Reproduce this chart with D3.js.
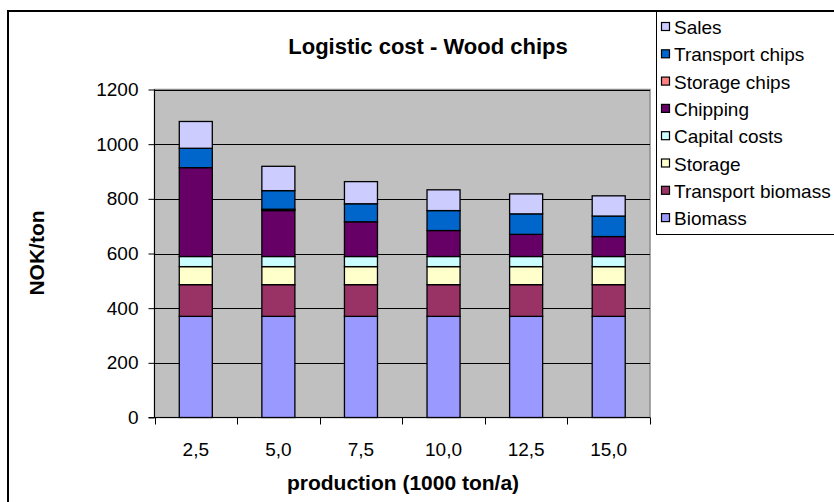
<!DOCTYPE html>
<html>
<head>
<meta charset="utf-8">
<script src="https://cdn.jsdelivr.net/npm/d3@7/dist/d3.min.js"></script>
<style>
  html, body { margin: 0; padding: 0; background: #fff; }
  svg { display: block; font-family: "Liberation Sans", Arial, sans-serif; }
</style>
</head>
<body>
<svg id="chart" width="834" height="502"></svg>
<script>
// Production levels (1000 ton/a)
const categories = ["2,5", "5,0", "7,5", "10,0", "12,5", "15,0"];

// Cost components, NOK/ton, stacked bottom to top
const biomass          = [370, 370, 370, 370, 370, 370];
const transportBiomass = [116, 116, 116, 116, 116, 116];
const storage          = [66, 66, 66, 66, 66, 66];
const capitalCosts     = [37, 37, 37, 37, 37, 37];
const chipping         = [325, 168, 127, 95, 81, 73];
const storageChips     = [0, 5, 0, 0, 0, 0];
const transportChips   = [71, 68, 66, 73, 75, 75];
const sales            = [98, 89, 81, 76, 73, 74];

const yTicks = [0, 200, 400, 600, 800, 1000, 1200];

const series = [
  { name: "Biomass",           values: biomass,          color: "#9999FF" },
  { name: "Transport biomass", values: transportBiomass, color: "#993366" },
  { name: "Storage",           values: storage,          color: "#FFFFCC" },
  { name: "Capital costs",     values: capitalCosts,     color: "#CCFFFF" },
  { name: "Chipping",          values: chipping,         color: "#660066" },
  { name: "Storage chips",     values: storageChips,     color: "#FF8080" },
  { name: "Transport chips",   values: transportChips,   color: "#0066CC" },
  { name: "Sales",             values: sales,            color: "#CCCCFF" }
];

const svg = d3.select("#chart");

// Chart frame
svg.append("rect")
  .attr("x", 8).attr("y", 11).attr("width", 900).attr("height", 600)
  .attr("fill", "#fff").attr("stroke", "#000").attr("stroke-width", 2);

const plot = { left: 154.5, right: 650, top: 89.5, bottom: 417.5 };

const band = d3.scaleBand().domain(categories).range([plot.left, plot.right]);
const y = d3.scaleLinear().domain([0, 1200]).range([plot.bottom, plot.top]);

// Plot background
svg.append("rect")
  .attr("x", plot.left).attr("y", plot.top)
  .attr("width", plot.right - plot.left).attr("height", plot.bottom - plot.top)
  .attr("fill", "#C0C0C0").attr("stroke", "#8c8c8c").attr("stroke-width", 1.5);

// Gridlines
svg.append("g").selectAll("line")
  .data(yTicks.filter(d => d > 0))
  .join("line")
  .attr("x1", plot.left).attr("x2", plot.right)
  .attr("y1", d => Math.round(y(d)) + 0.5).attr("y2", d => Math.round(y(d)) + 0.5)
  .attr("stroke", "#000").attr("stroke-width", 1);

// Stacked bars
const rows = categories.map((c, i) => {
  const r = { cat: c };
  series.forEach(s => { r[s.name] = s.values[i]; });
  return r;
});
const stacked = d3.stack().keys(series.map(s => s.name))(rows);

const barW = band.bandwidth() * 0.4;
svg.append("g").selectAll("g")
  .data(stacked)
  .join("g")
  .attr("fill", (d, i) => series[i].color)
  .selectAll("rect")
  .data(d => d.filter(p => p[1] - p[0] > 0))
  .join("rect")
  .attr("x", d => band(d.data.cat) + (band.bandwidth() - barW) / 2)
  .attr("width", barW)
  .attr("y", d => y(d[1]))
  .attr("height", d => y(d[0]) - y(d[1]))
  .attr("stroke", "#000").attr("stroke-width", 1.3);

// Y axis
const yAxis = d3.axisLeft(y).tickValues(yTicks).tickSize(6).tickPadding(10).tickFormat(d3.format("d"));
const gy = svg.append("g").attr("transform", `translate(${plot.left},0)`).call(yAxis);
gy.select(".domain").attr("stroke", "#000").attr("d", `M0,${plot.top}V${plot.bottom}`);
gy.selectAll("text").attr("font-size", 19).attr("fill", "#000")
  .attr("font-family", "Liberation Sans, Arial, sans-serif");

// X axis: ticks at category boundaries
svg.append("line")
  .attr("x1", plot.left - 6).attr("x2", plot.right)
  .attr("y1", plot.bottom).attr("y2", plot.bottom)
  .attr("stroke", "#000");
const bounds = categories.map(c => band(c)).concat([plot.right]);
svg.append("g").selectAll("line")
  .data(bounds)
  .join("line")
  .attr("x1", d => Math.round(d) + 0.5).attr("x2", d => Math.round(d) + 0.5)
  .attr("y1", plot.bottom).attr("y2", plot.bottom + 7)
  .attr("stroke", "#000");
svg.append("g").selectAll("text")
  .data(categories)
  .join("text")
  .attr("x", d => band(d) + band.bandwidth() / 2)
  .attr("y", 456)
  .attr("text-anchor", "middle")
  .attr("font-size", 19)
  .text(d => d);

// Titles
svg.append("text")
  .attr("x", 428).attr("y", 54)
  .attr("text-anchor", "middle")
  .attr("font-size", 22).attr("font-weight", "bold")
  .text("Logistic cost - Wood chips");

svg.append("text")
  .attr("x", 403).attr("y", 490)
  .attr("text-anchor", "middle")
  .attr("font-size", 21).attr("font-weight", "bold")
  .text("production (1000 ton/a)");

svg.append("text")
  .attr("transform", "translate(44,253) rotate(-90)")
  .attr("text-anchor", "middle")
  .attr("font-size", 21).attr("font-weight", "bold")
  .text("NOK/ton");

// Legend
const legend = svg.append("g");
legend.append("rect")
  .attr("x", 656.5).attr("y", 11.5).attr("width", 300).attr("height", 223)
  .attr("fill", "#fff").attr("stroke", "#000").attr("stroke-width", 1);
const legendItems = series.slice().reverse();
const li = legend.selectAll("g.item")
  .data(legendItems)
  .join("g")
  .attr("class", "item")
  .attr("transform", (d, i) => `translate(661, ${27 + i * 27.3})`);
li.append("rect")
  .attr("x", 0.5).attr("y", -4.5).attr("width", 8).attr("height", 8)
  .attr("fill", d => d.color).attr("stroke", "#000").attr("stroke-width", 1.2);
li.append("text")
  .attr("x", 13).attr("y", 7)
  .attr("font-size", 19)
  .text(d => d.name);
</script>
</body>
</html>
